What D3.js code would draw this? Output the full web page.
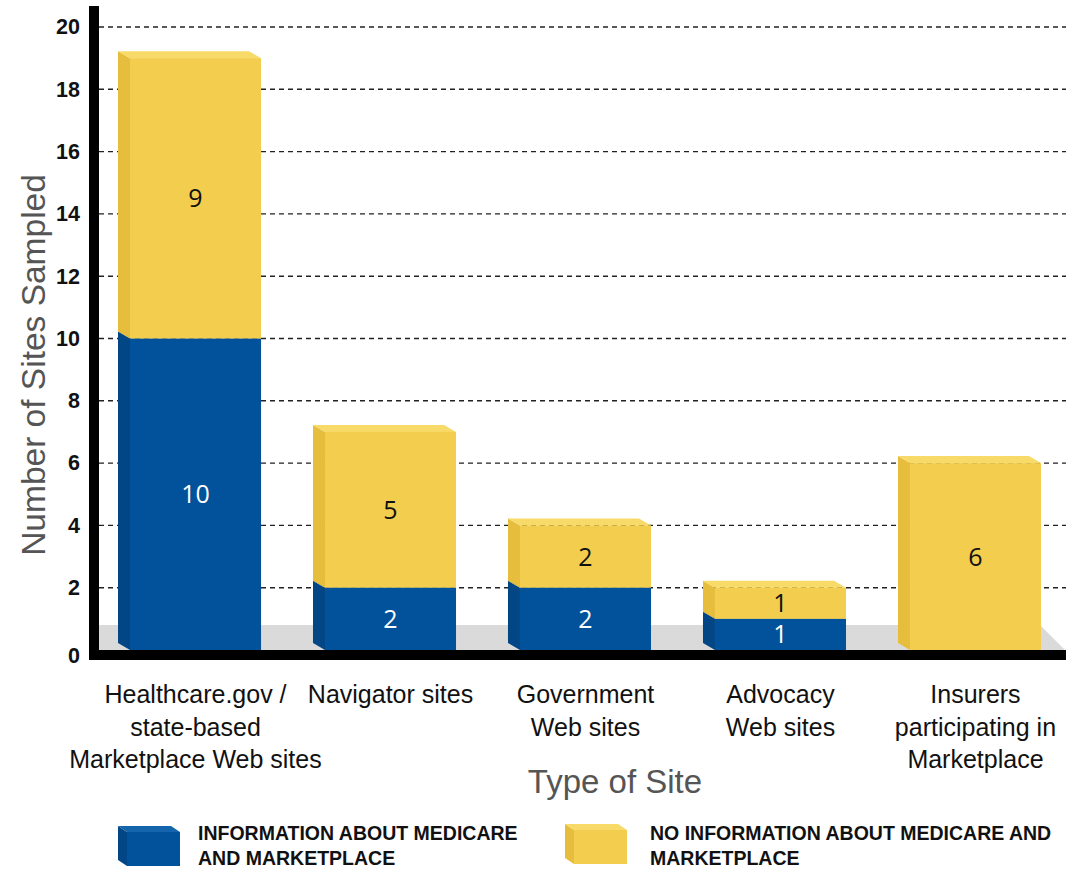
<!DOCTYPE html>
<html>
<head>
<meta charset="utf-8">
<script src="https://cdn.jsdelivr.net/npm/d3@7"></script>
<style>
  html, body { margin: 0; padding: 0; background: #ffffff; }
  svg { display: block; }
</style>
</head>
<body>
<svg id="chart" width="1066" height="869"></svg>
<script>
// Site types sampled (x categories) and how each label wraps
const categories = ["Healthcare", "Navigator", "Government", "Advocacy", "Insurers"];
const categoryLabels = [
  ["Healthcare.gov /", "state-based", "Marketplace Web sites"],
  ["Navigator sites"],
  ["Government", "Web sites"],
  ["Advocacy", "Web sites"],
  ["Insurers", "participating in", "Marketplace"]
];

// Series: sites with / without information about Medicare and Marketplace
const seriesKeys = ["info", "noInfo"];
const seriesNames = [
  ["INFORMATION ABOUT MEDICARE", "AND MARKETPLACE"],
  ["NO INFORMATION ABOUT MEDICARE AND", "MARKETPLACE"]
];
const infoValues = [10, 2, 2, 1, 0];
const noInfoValues = [9, 5, 2, 1, 6];

// Y axis ticks
const yTicks = [0, 2, 4, 6, 8, 10, 12, 14, 16, 18, 20];

const xTitle = "Type of Site";
const yTitle = "Number of Sites Sampled";

// ---- styling ----
const colors = {
  info:   { front: "#02529b", side: "#034685", top: "#1565ad", text: "#ffffff" },
  noInfo: { front: "#f2cd4e", side: "#e6bd3c", top: "#f8da68", text: "#111111" }
};
const depthX = 12, depthY = 7;
const sans = "'Liberation Sans', Arial, sans-serif";

const svg = d3.select("#chart");

const rows = categories.map((c, i) => ({ category: c, info: infoValues[i], noInfo: noInfoValues[i] }));
const stacked = d3.stack().keys(seriesKeys)(rows);

const x = d3.scaleBand()
  .domain(categories)
  .range([130, 1041])
  .paddingInner(0.328)
  .paddingOuter(0);

const y = d3.scaleLinear().domain([0, 20]).range([650, 27]);

const axisX = 89, axisW = 10, baseY = 650, axisH = 10;

// dashed grid lines
svg.append("g").selectAll("line")
  .data(yTicks.filter(t => t > 0))
  .join("line")
  .attr("x1", axisX + axisW).attr("x2", 1066)
  .attr("y1", d => y(d)).attr("y2", d => y(d))
  .attr("stroke", "#222").attr("stroke-width", 1.4)
  .attr("stroke-dasharray", "5,4");

// floor
svg.append("polygon")
  .attr("points", [[axisX + axisW, 625], [1040, 625], [1066, 651], [axisX + axisW, 651]].map(p => p.join(",")).join(" "))
  .attr("fill", "#dadada");

// 3D stacked bars
const barsG = svg.append("g");
stacked.forEach(layer => {
  const key = layer.key;
  const col = colors[key];
  layer.forEach((seg, i) => {
    const v = seg[1] - seg[0];
    if (v <= 0) return;
    const cat = categories[i];
    const x0 = x(cat), x1 = x0 + x.bandwidth();
    const yb = y(seg[0]), yt = y(seg[1]);
    const g = barsG.append("g");
    // left side face
    g.append("polygon")
      .attr("points", [[x0 - depthX, yt - depthY], [x0, yt], [x0, yb], [x0 - depthX, yb - depthY]].map(p => p.join(",")).join(" "))
      .attr("fill", col.side);
    // top face
    g.append("polygon")
      .attr("points", [[x0 - depthX, yt - depthY], [x1 - depthX, yt - depthY], [x1, yt], [x0, yt]].map(p => p.join(",")).join(" "))
      .attr("fill", col.top);
    // front face
    g.append("rect")
      .attr("x", x0).attr("y", yt)
      .attr("width", x1 - x0).attr("height", yb - yt)
      .attr("fill", col.front);
    // value label
    g.append("text")
      .attr("x", (x0 + x1) / 2)
      .attr("y", (yt + yb) / 2)
      .attr("dy", "0.36em")
      .attr("text-anchor", "middle")
      .attr("font-family", "'Open Sans', 'Noto Sans', sans-serif")
      .attr("font-size", 25)
      .attr("fill", col.text)
      .text(v);
  });
});

// axis lines
svg.append("rect").attr("x", axisX).attr("y", 6).attr("width", axisW).attr("height", baseY + axisH - 6).attr("fill", "#000");
svg.append("rect").attr("x", axisX).attr("y", baseY).attr("width", 1066 - axisX).attr("height", axisH).attr("fill", "#000");

// y tick labels
const yAxis = d3.axisLeft(y).tickValues(yTicks).tickSize(0).tickPadding(9);
const yAxisG = svg.append("g").attr("transform", `translate(${axisX},0)`).call(yAxis);
yAxisG.select(".domain").remove();
yAxisG.selectAll("text")
  .attr("font-family", sans)
  .attr("font-weight", "bold")
  .attr("font-size", 21.5)
  .attr("fill", "#111");
yAxisG.selectAll(".tick").filter(d => d === 0).select("text").attr("dy", "0.6em");

// x category labels
const xLab = svg.append("g");
categories.forEach((c, i) => {
  const cx = x(c) + x.bandwidth() / 2;
  const t = xLab.append("text")
    .attr("text-anchor", "middle")
    .attr("font-family", sans)
    .attr("font-size", 25)
    .attr("fill", "#111");
  categoryLabels[i].forEach((line, j) => {
    t.append("tspan").attr("x", cx).attr("y", 703 + j * 32.5).text(line);
  });
});

// axis titles
svg.append("text")
  .attr("x", 615).attr("y", 793)
  .attr("text-anchor", "middle")
  .attr("font-family", sans)
  .attr("font-size", 33)
  .attr("fill", "#555")
  .text(xTitle);

svg.append("text")
  .attr("transform", "translate(45,365) rotate(-90)")
  .attr("text-anchor", "middle")
  .attr("font-family", sans)
  .attr("font-size", 33.5)
  .attr("fill", "#555")
  .text(yTitle);

// legend
const legendPos = [{ x: 127, y: 832, tx: 198 }, { x: 574, y: 830, tx: 650 }];
seriesKeys.forEach((key, i) => {
  const col = colors[key];
  const p = legendPos[i];
  const w = 53, h = 34, dx = 9, dy = 6;
  const g = svg.append("g");
  g.append("polygon")
    .attr("points", [[p.x - dx, p.y - dy], [p.x, p.y], [p.x, p.y + h], [p.x - dx, p.y + h - dy]].map(q => q.join(",")).join(" "))
    .attr("fill", col.side);
  g.append("polygon")
    .attr("points", [[p.x - dx, p.y - dy], [p.x + w - dx, p.y - dy], [p.x + w, p.y], [p.x, p.y]].map(q => q.join(",")).join(" "))
    .attr("fill", col.top);
  g.append("rect").attr("x", p.x).attr("y", p.y).attr("width", w).attr("height", h).attr("fill", col.front);
  const t = g.append("text")
    .attr("font-family", sans)
    .attr("font-weight", "bold")
    .attr("font-size", 19.5)
    .attr("fill", "#111");
  seriesNames[i].forEach((line, j) => {
    t.append("tspan").attr("x", p.tx).attr("y", 840 + j * 25).text(line);
  });
});
</script>
</body>
</html>
